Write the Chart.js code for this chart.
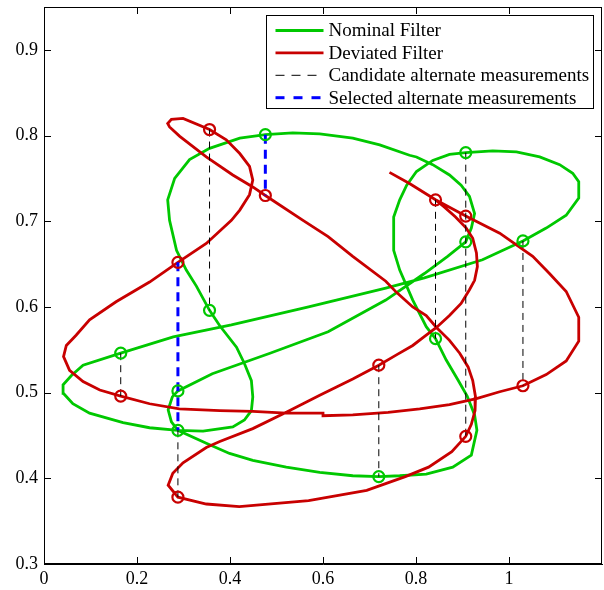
<!DOCTYPE html>
<html>
<head>
<meta charset="utf-8">
<script src="https://cdn.jsdelivr.net/npm/chart.js@4.4.1/dist/chart.umd.min.js"></script>
<style>
  body { margin: 0; background: #fff; }
  canvas { display: block; }
</style>
</head>
<body>
<canvas id="myChart" width="604" height="590"></canvas>
<script>
// nominal filter trajectory (green)
const nominalX = [0.165, 0.278, 0.403, 0.569, 0.735, 0.818, 0.943, 1.030, 1.080, 1.123, 1.150, 1.150, 1.137, 1.109, 1.066, 1.016, 0.965, 0.907,
  0.872, 0.836, 0.801, 0.780, 0.765, 0.752, 0.752, 0.765, 0.793, 0.822, 0.842, 0.865, 0.890, 0.910, 0.926, 0.931, 0.919, 0.879, 0.822, 0.765, 0.720,
  0.664, 0.593, 0.521, 0.449, 0.399, 0.349, 0.288, 0.274, 0.267, 0.276, 0.288, 0.362, 0.486, 0.611, 0.735, 0.818, 0.868, 0.907,
  0.919, 0.926, 0.915, 0.897, 0.872, 0.836, 0.801, 0.786, 0.722, 0.664, 0.593, 0.535, 0.476, 0.421, 0.356, 0.313, 0.281, 0.266, 0.270,
  0.285, 0.306, 0.328, 0.356, 0.378, 0.414, 0.431, 0.446, 0.449, 0.446, 0.431, 0.406, 0.342, 0.288, 0.227, 0.170, 0.098, 0.062, 0.042,
  0.041, 0.059, 0.084, 0.165];
const nominalY = [0.546, 0.565, 0.579, 0.600, 0.622, 0.634, 0.655, 0.677, 0.692, 0.707, 0.727, 0.746, 0.756, 0.766, 0.775, 0.781, 0.782, 0.780,
  0.778, 0.771, 0.758, 0.742, 0.725, 0.705, 0.666, 0.643, 0.608, 0.577, 0.563, 0.538, 0.515, 0.496, 0.474, 0.456, 0.427, 0.413, 0.405, 0.403, 0.402,
  0.403, 0.407, 0.413, 0.421, 0.429, 0.441, 0.456, 0.466, 0.480, 0.495, 0.502, 0.522, 0.546, 0.571, 0.608, 0.639, 0.659, 0.676,
  0.692, 0.709, 0.729, 0.742, 0.754, 0.766, 0.775, 0.777, 0.789, 0.797, 0.802, 0.803, 0.801, 0.797, 0.785, 0.772, 0.750, 0.725, 0.701,
  0.666, 0.643, 0.624, 0.596, 0.578, 0.553, 0.534, 0.514, 0.495, 0.479, 0.468, 0.460, 0.455, 0.456, 0.459, 0.465, 0.476, 0.487, 0.499,
  0.509, 0.520, 0.532, 0.546];

// deviated filter trajectory (red)
const deviatedX = [0.743, 0.786, 0.842, 0.907, 0.980, 1.051, 1.087, 1.123, 1.150, 1.150, 1.123, 1.080, 1.030, 0.980, 0.930, 0.872, 0.808, 0.740,
  0.664, 0.600, 0.600, 0.521, 0.449, 0.378, 0.291, 0.227, 0.165, 0.120, 0.084, 0.055, 0.042, 0.048, 0.069, 0.098, 0.155, 0.227, 0.288,
  0.349, 0.403, 0.421, 0.442, 0.449, 0.442, 0.421, 0.392, 0.356, 0.299, 0.274, 0.266, 0.270, 0.292, 0.349, 0.406, 0.449, 0.476,
  0.557, 0.611, 0.664, 0.735, 0.758, 0.793, 0.822, 0.844, 0.872, 0.894, 0.912, 0.922, 0.928, 0.927, 0.919, 0.907,
  0.877, 0.827, 0.777, 0.694, 0.569, 0.420, 0.349, 0.288, 0.267, 0.277, 0.299, 0.349, 0.378, 0.449, 0.521, 0.593, 0.664, 0.720,
  0.758, 0.793, 0.822, 0.844, 0.872, 0.897, 0.915, 0.926, 0.932, 0.930, 0.922, 0.908, 0.885, 0.860, 0.842];
const deviatedY = [0.757, 0.744, 0.725, 0.706, 0.686, 0.659, 0.639, 0.618, 0.588, 0.560, 0.537, 0.521, 0.508, 0.501, 0.493, 0.486, 0.481, 0.477,
  0.474, 0.473, 0.476, 0.476, 0.478, 0.479, 0.481, 0.487, 0.496, 0.503, 0.513, 0.526, 0.542, 0.555, 0.567, 0.585, 0.606, 0.629, 0.652,
  0.674, 0.701, 0.713, 0.731, 0.748, 0.764, 0.779, 0.795, 0.807, 0.820, 0.819, 0.814, 0.810, 0.799, 0.775, 0.754, 0.740, 0.730,
  0.701, 0.682, 0.659, 0.630, 0.617, 0.600, 0.590, 0.576, 0.561, 0.546, 0.530, 0.514, 0.495, 0.479, 0.463, 0.449,
  0.431, 0.413, 0.402, 0.386, 0.374, 0.367, 0.370, 0.378, 0.392, 0.406, 0.418, 0.436, 0.443, 0.458, 0.477, 0.497, 0.516, 0.532,
  0.544, 0.555, 0.567, 0.576, 0.590, 0.604, 0.620, 0.631, 0.647, 0.663, 0.680, 0.692, 0.705, 0.717, 0.725];

// measurement markers
const nominalMarkX = [0.165, 0.288, 0.288, 0.356, 0.476, 0.720, 0.842, 0.907, 0.907, 1.030];
const nominalMarkY = [0.546, 0.502, 0.456, 0.596, 0.801, 0.402, 0.563, 0.780, 0.676, 0.677];
const deviatedMarkX = [0.165, 0.288, 0.288, 0.356, 0.476, 0.720, 0.842, 0.907, 0.907, 1.030];
const deviatedMarkY = [0.496, 0.652, 0.378, 0.807, 0.730, 0.532, 0.725, 0.706, 0.449, 0.508];

// candidate / selected alternate measurement links
const candidateX = [0.165, 0.288, 0.356, 0.720, 0.842, 0.907, 1.030];
const candidateFrom = [0.546, 0.456, 0.807, 0.532, 0.725, 0.780, 0.677];
const candidateTo = [0.496, 0.378, 0.596, 0.402, 0.563, 0.449, 0.508];
const selectedX = [0.288, 0.476];
const selectedFrom = [0.652, 0.801];
const selectedTo = [0.456, 0.730];

const xTickValues = [0, 0.2, 0.4, 0.6, 0.8, 1];
const xTickLabels = ['0', '0.2', '0.4', '0.6', '0.8', '1'];
const yTickValues = [0.3, 0.4, 0.5, 0.6, 0.7, 0.8, 0.9];
const yTickLabels = ['0.3', '0.4', '0.5', '0.6', '0.7', '0.8', '0.9'];

const legendLabels = ['Nominal Filter', 'Deviated Filter', 'Candidate alternate measurements', 'Selected alternate measurements'];

const GREEN = 'rgb(0,200,0)';
const RED = 'rgb(200,0,0)';
const FONT = '"Liberation Serif", "Times New Roman", serif';

const pts = (xs, ys) => xs.map((x, i) => ({ x: x, y: ys[i] }));

const datasets = [];
datasets.push({
  label: legendLabels[0], data: pts(nominalX, nominalY), showLine: true,
  borderColor: GREEN, borderWidth: 2.8, pointRadius: 0, order: 4
});
datasets.push({
  label: legendLabels[1], data: pts(deviatedX, deviatedY), showLine: true,
  borderColor: RED, borderWidth: 2.8, pointRadius: 0, order: 3
});
candidateX.forEach((x, i) => datasets.push({
  label: 'cand' + i, data: [{ x: x, y: candidateFrom[i] }, { x: x, y: candidateTo[i] }],
  showLine: true, borderColor: '#000', borderWidth: 1, borderDash: [7, 5], pointRadius: 0, order: 2
}));
selectedX.forEach((x, i) => datasets.push({
  label: 'sel' + i, data: [{ x: x, y: selectedFrom[i] }, { x: x, y: selectedTo[i] }],
  showLine: true, borderColor: '#0000ff', borderWidth: 3, borderDash: [9, 6], pointRadius: 0, order: 2
}));
datasets.push({
  label: 'nomMarks', data: pts(nominalMarkX, nominalMarkY), showLine: false,
  pointStyle: 'circle', pointRadius: 5.5, pointBorderWidth: 2.2,
  pointBorderColor: GREEN, pointBackgroundColor: 'rgba(0,0,0,0)', order: 1
});
datasets.push({
  label: 'devMarks', data: pts(deviatedMarkX, deviatedMarkY), showLine: false,
  pointStyle: 'circle', pointRadius: 5.5, pointBorderWidth: 2.2,
  pointBorderColor: RED, pointBackgroundColor: 'rgba(0,0,0,0)', order: 0
});

const legendItems = [
  { text: legendLabels[0], color: GREEN, width: 2.8, dash: [] },
  { text: legendLabels[1], color: RED, width: 2.8, dash: [] },
  { text: legendLabels[2], color: '#000', width: 1, dash: [9, 7] },
  { text: legendLabels[3], color: '#0000ff', width: 3, dash: [9, 9] }
];

// matlab style box, inward ticks and legend
const matlabFrame = {
  id: 'matlabFrame',
  afterDraw(chart) {
    const ctx = chart.ctx;
    const a = chart.chartArea;
    const xs = chart.scales.x, ys = chart.scales.y;
    ctx.save();
    ctx.strokeStyle = '#000';
    ctx.lineWidth = 1;
    ctx.strokeRect(Math.round(a.left) + 0.5, Math.round(a.top) + 0.5, Math.round(a.right - a.left) - 1, Math.round(a.bottom - a.top) - 1);
    ctx.beginPath();
    xTickValues.forEach(v => {
      const px = Math.round(xs.getPixelForValue(v)) + 0.5;
      ctx.moveTo(px, a.bottom); ctx.lineTo(px, a.bottom - 7);
      ctx.moveTo(px, a.top); ctx.lineTo(px, a.top + 7);
    });
    yTickValues.forEach(v => {
      const py = Math.round(ys.getPixelForValue(v)) + 0.5;
      ctx.moveTo(a.left, py); ctx.lineTo(a.left + 7, py);
      ctx.moveTo(a.right, py); ctx.lineTo(a.right - 7, py);
    });
    ctx.stroke();

    // legend box
    const bw = 327, bh = 93;
    const bx = Math.round(a.right - 9 - bw) + 0.5, by = Math.round(a.top + 8) + 0.5;
    ctx.fillStyle = '#fff';
    ctx.fillRect(bx, by, bw, bh);
    ctx.strokeStyle = '#000';
    ctx.lineWidth = 1;
    ctx.strokeRect(bx, by, bw, bh);
    ctx.font = '19px ' + FONT;
    ctx.textBaseline = 'middle';
    legendItems.forEach((it, i) => {
      const ly = by + 15 + i * 22.4;
      ctx.save();
      ctx.strokeStyle = it.color;
      ctx.lineWidth = it.width;
      ctx.setLineDash(it.dash);
      ctx.beginPath();
      ctx.moveTo(bx + 9, ly);
      ctx.lineTo(bx + 57, ly);
      ctx.stroke();
      ctx.restore();
      ctx.fillStyle = '#000';
      ctx.fillText(it.text, bx + 62, ly + 1);
    });
    ctx.restore();
  }
};

new Chart(document.getElementById('myChart'), {
  type: 'scatter',
  data: { datasets: datasets },
  options: {
    responsive: false,
    animation: false,
    devicePixelRatio: 1,
    layout: { autoPadding: false, padding: { top: 7, right: 2, left: 0, bottom: 0 } },
    plugins: {
      legend: { display: false },
      tooltip: { enabled: false }
    },
    scales: {
      x: {
        type: 'linear', min: 0, max: 1.2,
        grid: { display: false, drawTicks: false, tickLength: 0 },
        border: { display: true, color: '#000', width: 1 },
        afterBuildTicks: (s) => { s.ticks = xTickValues.map(v => ({ value: v })); },
        afterFit: (s) => { s.height = 26; s.paddingLeft = 0; s.paddingRight = 0; },
        ticks: {
          color: '#000', padding: 4, maxRotation: 0,
          font: { family: FONT, size: 18 },
          callback: (v) => xTickLabels[xTickValues.findIndex(t => Math.abs(t - v) < 1e-6)]
        }
      },
      y: {
        type: 'linear', min: 0.3, max: 0.95,
        grid: { display: false, drawTicks: false, tickLength: 0 },
        border: { display: true, color: '#000', width: 1 },
        afterBuildTicks: (s) => { s.ticks = yTickValues.map(v => ({ value: v })); },
        afterFit: (s) => { s.width = 44; s.paddingTop = 0; s.paddingBottom = 0; },
        ticks: {
          color: '#000', padding: 6,
          font: { family: FONT, size: 18 },
          callback: (v) => yTickLabels[yTickValues.findIndex(t => Math.abs(t - v) < 1e-6)]
        }
      }
    }
  },
  plugins: [matlabFrame]
});
</script>
</body>
</html>
